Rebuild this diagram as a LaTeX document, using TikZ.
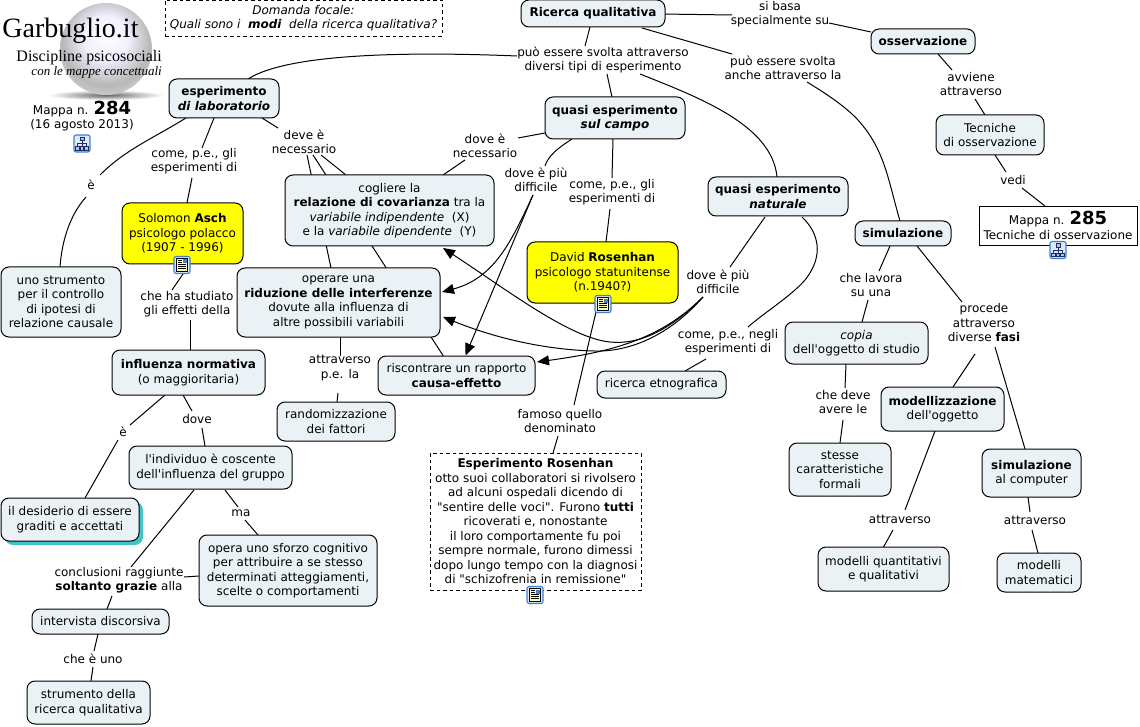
\documentclass[tikz,border=0pt]{standalone}
\usepackage{fontspec}
\newfontfamily\vfont{DejaVu Sans}
\newfontfamily\logofont{Liberation Serif}
\usetikzlibrary{arrows.meta,backgrounds,shadows}
\definecolor{boxfill}{HTML}{EBF2F5}
\definecolor{yel}{HTML}{FFFF00}
\definecolor{tealsh}{HTML}{45C4C6}
\definecolor{iconblue}{HTML}{3F7FD0}
\definecolor{iconfill}{HTML}{DDE9F8}
\definecolor{icondark}{HTML}{1F2F60}
\pgfdeclareradialshading{sphereball}{\pgfpoint{0bp}{8bp}}{
 color(0bp)=(white); color(12bp)=(white!94!blue); color(24bp)=(black!28!white);
 color(32bp)=(black!16!white); color(40bp)=(blue!10!black!45!white); color(50bp)=(blue!15!black!60!white)}
\tikzset{
 x=1pt,y=-1pt,
 every node/.style={font=\vfont\fontsize{12}{14.5}\selectfont,align=center,inner sep=0pt,text=black},
 cbox/.style={draw=black,line width=1pt,rounded corners=8pt,fill=boxfill},
 ybox/.style={cbox,fill=yel},
 dbox/.style={draw=black,line width=.9pt,dash pattern=on 3.5pt off 3pt,fill=white},
 sbox/.style={draw=black,line width=.9pt,fill=white},
 lab/.style={},
 ln/.style={draw=black,line width=1pt},
 la/.style={ln,-{Triangle[length=12pt,width=10pt]}},
 iconmap/.pic={
  \draw[iconblue,line width=1.1pt,fill=iconfill,rounded corners=2pt] (-8,-8.5) rectangle (8,8.5);
  \draw[icondark,line width=.6pt] (0,-3) -- (0,0) (-4.5,3) -- (-4.5,0) -- (4.5,0) -- (4.5,3) (0,0) -- (0,3);
  \draw[icondark,line width=.6pt,fill=iconblue!45] (-2,-6.5) rectangle (2,-3) (-6.5,3) rectangle (-2.5,6.5) (2.5,3) rectangle (6.5,6.5) (-1.5,3) rectangle (1.5,6.5);
 },
 icondoc/.pic={
  \draw[iconblue,line width=1.1pt,fill=iconfill,rounded corners=2pt] (-8,-8.5) rectangle (8,8.5);
  \draw[black,line width=.7pt,fill=yellow!25] (-5.5,-6.5) rectangle (5.5,6.5);
  \fill[iconblue!80!gray] (.5,-5.5) rectangle (4.5,-1.5);
  \draw[black,line width=.8pt] (-4,-4.5) -- (-.5,-4.5) (-4,-2.5) -- (-.5,-2.5) (-4,-.5) -- (4,-.5) (-4,1.5) -- (4,1.5) (-4,3.5) -- (4,3.5);
 }
}
\newcommand\conn[6]{\draw[ln] ([shift={(#2,#3)}]#1.center) -- ([shift={(#5,#6)}]#4.center);}
\begin{document}
\begin{tikzpicture}
\useasboundingbox (0,0) rectangle (1140,727);
% logo
\shade[inner color=black!60,outer color=white] (106,95) ellipse [x radius=58,y radius=5];
\shade[shading=sphereball] (106,49) circle [radius=46];
\node (logoa) at (70.5,31) {\logofont\fontsize{28}{30}\selectfont Garbuglio.it};
\node[anchor=east] (logob) at (162,57.5) {\logofont\fontsize{16}{18}\selectfont Discipline psicosociali};
\node[anchor=east] (logoc) at (162,72) {\logofont\itshape\fontsize{13}{15}\selectfont con le mappe concettuali};
\node (m284) at (82,116) {Mappa n. {\fontsize{18}{18}\selectfont\bfseries 284}\\(16 agosto 2013)};
% boxes
\node[dbox,minimum width=277pt,minimum height=36pt] (domanda) at (303.5,18) {\itshape Domanda focale:\\\itshape Quali sono i \ {\bfseries modi} \ della ricerca qualitativa?};
\node[cbox,minimum width=144pt,minimum height=27pt] (ricerca) at (593,13.5) {\bfseries Ricerca qualitativa};
\node[cbox,minimum width=104pt,minimum height=25pt] (oss) at (923,41.5) {\bfseries osservazione};
\node[cbox,minimum width=108pt,minimum height=40pt] (tecniche) at (990,135) {Tecniche\\di osservazione};
\node[sbox,minimum width=158pt,minimum height=39pt] (mappa) at (1058,225.5) {Mappa n. {\fontsize{18}{18}\selectfont\bfseries 285}\\Tecniche di osservazione};
\node[cbox,minimum width=96pt,minimum height=25pt] (sim) at (903,233.5) {\bfseries simulazione};
\node[cbox,minimum width=110pt,minimum height=39pt] (esplab) at (224,98.5) {\bfseries esperimento\\\bfseries\itshape di laboratorio};
\node[cbox,minimum width=140pt,minimum height=42pt] (qcampo) at (615,118) {\bfseries quasi esperimento\\\bfseries\itshape sul campo};
\node[cbox,minimum width=140pt,minimum height=39pt] (qnat) at (778,196.5) {\bfseries quasi esperimento\\\bfseries\itshape naturale};
\node[cbox,minimum width=209pt,minimum height=71pt] (cogliere) at (389.5,210.5) {cogliere la\\{\bfseries relazione di covarianza} tra la\\{\itshape variabile indipendente} \ (X)\\e la {\itshape variabile dipendente} \ (Y)};
\node[ybox,minimum width=121pt,minimum height=61pt] (asch) at (182.5,233.5) {Solomon {\bfseries Asch}\\psicologo polacco\\(1907 - 1996)};
\node[ybox,minimum width=151pt,minimum height=61pt] (ros) at (602.5,272.5) {David {\bfseries Rosenhan}\\psicologo statunitense\\(n.1940?)};
\node[cbox,minimum width=203pt,minimum height=69pt] (operare) at (338.5,302.5) {operare una\\{\bfseries riduzione delle interferenze}\\dovute alla influenza di\\altre possibili variabili};
\node[cbox,minimum width=120pt,minimum height=70pt] (strum) at (61,302) {uno strumento\\per il controllo\\di ipotesi di\\relazione causale};
\node[cbox,minimum width=153pt,minimum height=45pt] (influenza) at (188.5,372.5) {{\bfseries influenza normativa}\\(o maggioritaria)};
\node[cbox,minimum width=157pt,minimum height=39pt] (riscontrare) at (456.5,375.5) {riscontrare un rapporto\\{\bfseries causa-effetto}};
\node[cbox,minimum width=129pt,minimum height=27pt] (etno) at (661.5,384.5) {ricerca etnografica};
\node[cbox,minimum width=143pt,minimum height=42pt] (copia) at (856.5,343) {{\itshape copia}\\dell'oggetto di studio};
\node[cbox,minimum width=118pt,minimum height=39pt] (random) at (336,421.5) {randomizzazione\\dei fattori};
\node[cbox,minimum width=123pt,minimum height=44pt] (modell) at (942.5,409) {{\bfseries modellizzazione}\\dell'oggetto};
\node[cbox,minimum width=102pt,minimum height=53pt] (stesse) at (840,469.5) {stesse\\caratteristiche\\formali};
\node[cbox,minimum width=99pt,minimum height=48pt] (simcomp) at (1031.5,473) {{\bfseries simulazione}\\al computer};
\node[cbox,minimum width=163pt,minimum height=43pt] (individuo) at (210.5,467.5) {l'individuo è coscente\\dell'influenza del gruppo};
\node[cbox,minimum width=138pt,minimum height=43pt,copy shadow={shadow xshift=4pt,shadow yshift=-4pt,fill=tealsh,draw=none}] (desiderio) at (70,519.5) {il desiderio di essere\\graditi e accettati};
\node[cbox,minimum width=178pt,minimum height=71pt] (opera) at (288,570.5) {opera uno sforzo cognitivo\\per attribuire a se stesso\\determinati atteggiamenti,\\scelte o comportamenti};
\node[dbox,minimum width=211pt,minimum height=137pt] (esper) at (535.5,521.5) {{\bfseries Esperimento Rosenhan}\\otto suoi collaboratori si rivolsero\\ad alcuni ospedali dicendo di\\"sentire delle voci". Furono {\bfseries tutti}\\ricoverati e, nonostante\\il loro comportamente fu poi\\sempre normale, furono dimessi\\dopo lungo tempo con la diagnosi\\di "schizofrenia in remissione"};
\node[cbox,minimum width=131pt,minimum height=44pt] (modq) at (883.5,569) {modelli quantitativi\\e qualitativi};
\node[cbox,minimum width=84pt,minimum height=39pt] (modm) at (1039,572.5) {modelli\\matematici};
\node[cbox,minimum width=137pt,minimum height=25pt] (intervista) at (100.5,621.5) {intervista discorsiva};
\node[cbox,minimum width=123pt,minimum height=43pt] (strric) at (88.5,702.5) {strumento della\\ricerca qualitativa};
% labels
\node[lab] (lbasa) at (780,14) {si basa\\specialmente su};
\node[lab] (lsvolta) at (603,60) {può essere svolta attraverso\\diversi tipi di esperimento};
\node[lab] (lanche) at (783,68) {può essere svolta\\anche attraverso la};
\node[lab] (lavv) at (971,84) {avviene\\attraverso};
\node[lab] (lvedi) at (1013,180) {vedi};
\node[lab] (ldeve) at (304,142) {deve è\\necessario};
\node[lab] (ldnec) at (485,146) {dove è\\necessario};
\node[lab] (lcome) at (194,161) {come, p.e., gli\\esperimenti di};
\node[lab] (ldiffa) at (536,180) {dove è più\\difficile};
\node[lab] (lcomeb) at (612,192) {come, p.e., gli\\esperimenti di};
\node[lab] (lea) at (91,185) {è};
\node[lab] (ldiffb) at (718,282) {dove è più\\difficile};
\node[lab] (lstud) at (187,304) {che ha studiato\\gli effetti della};
\node[lab] (lattr) at (340,368) {attraverso\\p.e. la};
\node[lab] (lnegli) at (728,342) {come, p.e., negli\\esperimenti di};
\node[lab] (llav) at (871,285) {che lavora\\su una};
\node[lab] (lproc) at (984,323) {procede\\attraverso\\diverse {\bfseries fasi}};
\node[lab] (ldev) at (843,402) {che deve\\avere le};
\node[lab] (leb) at (123,432) {è};
\node[lab] (ldove) at (197,419) {dove};
\node[lab] (lma) at (241,513) {ma};
\node[lab] (lfam) at (560,421) {famoso quello\\denominato};
\node[lab] (lconc) at (119,580) {conclusioni raggiunte\\{\bfseries soltanto grazie} alla};
\node[lab] (lche) at (93,659) {che è uno};
\node[lab] (latta) at (900,519) {attraverso};
\node[lab] (lattb) at (1035,520) {attraverso};
% icons
\pic at (82,143.5) {iconmap};
\pic at (1058,250) {iconmap};
\pic at (182,265) {icondoc};
\pic at (603,304) {icondoc};
\pic at (535,595) {icondoc};
% connectors
\begin{scope}[on background layer]
\conn{ricerca}{68}{0.5}{lbasa}{-48}{1}
\conn{lbasa}{49}{9}{oss}{-52}{-9.5}
\conn{ricerca}{-3}{13.5}{lsvolta}{-18}{-14}
\conn{ricerca}{49}{14.5}{lanche}{-51}{-14}
\draw[ln] ([shift={(24,14)}]lanche.center) .. controls (825,93) and (845,106) .. (858,120) .. controls (885,150) and (888,180) .. ([shift={(-3,-12.5)}]sim.center);
\draw[ln] ([shift={(-86,-4)}]lsvolta.center) .. controls (420,52) and (290,52) .. ([shift={(24,-19.5)}]esplab.center);
\conn{lsvolta}{4}{14}{qcampo}{-3}{-21}
\draw[ln] ([shift={(37,14)}]lsvolta.center) .. controls (700,98) and (772,125) .. ([shift={(-1,-19.5)}]qnat.center);
\conn{oss}{15}{12.5}{lavv}{-19}{-14}
\conn{lavv}{4}{15}{tecniche}{-5}{-20}
\conn{tecniche}{5}{20}{lvedi}{-7}{-8}
\conn{lvedi}{9}{8}{mappa}{-13}{-19.5}
\draw[ln] ([shift={(-38,19.5)}]esplab.center) .. controls (150,140) and (125,150) .. ([shift={(9,-10)}]lea.center);
\draw[ln] ([shift={(-5,12)}]lea.center) .. controls (70,215) and (62,240) .. ([shift={(-1,-35)}]strum.center);
\conn{esplab}{-10}{19.5}{lcome}{8}{-13}
\conn{lcome}{-2}{17}{asch}{4.5}{-30.5}
\conn{esplab}{38}{19.5}{ldeve}{-26}{-14}
\conn{ldeve}{17}{13}{cogliere}{-43.5}{-35.5}
\conn{ldeve}{3}{13}{operare}{-7.5}{-34.5}
\conn{ldeve}{9}{13}{riscontrare}{-12.5}{-18.5}
\conn{qcampo}{-70}{15}{ldnec}{33}{-8}
\conn{ldnec}{-20}{14}{cogliere}{53.5}{-35.5}
\draw[ln] ([shift={(-43,21)}]qcampo.center) .. controls (558,148) and (548,156) .. ([shift={(9,-14)}]ldiffa.center);
\draw[la] ([shift={(-3,15)}]ldiffa.center) .. controls (512,240) and (495,278) .. ([shift={(103.5,-10.5)}]operare.center);
\draw[la] ([shift={(-3,15)}]ldiffa.center) -- ([shift={(9,-20)}]riscontrare.center);
\conn{qcampo}{-2}{21}{lcomeb}{0}{-14}
\conn{lcomeb}{-2}{17}{ros}{3.5}{-30.5}
\conn{ros}{-6.5}{39.5}{lfam}{14}{-16}
\conn{lfam}{-2}{15}{esper}{17.5}{-68.5}
\conn{qnat}{-13}{20.5}{ldiffb}{12}{-15}
\draw[la] ([shift={(-15,15)}]ldiffb.center) .. controls (670,330) and (640,345) .. (610,342) .. controls (570,338) and (510,292) .. ([shift={(53.5,37.5)}]cogliere.center);
\draw[la] ([shift={(-15,15)}]ldiffb.center) .. controls (670,335) and (630,352) .. (595,351) .. controls (550,350) and (500,340) .. ([shift={(104.5,14.5)}]operare.center);
\draw[la] ([shift={(-15,15)}]ldiffb.center) .. controls (660,340) and (610,352) .. ([shift={(80.5,-13.5)}]riscontrare.center);
\draw[ln] ([shift={(24,20.5)}]qnat.center) .. controls (818,232) and (825,255) .. (805,280) .. controls (790,297) and (765,312) .. ([shift={(20,-15)}]lnegli.center);
\conn{lnegli}{-22}{17}{etno}{23.5}{-13.5}
\conn{sim}{-13}{12.5}{llav}{8}{-14}
\conn{llav}{-3}{15}{copia}{5.5}{-21}
\conn{sim}{14}{12.5}{lproc}{-22}{-21}
\conn{lproc}{-9}{31}{modell}{10.5}{-22}
\conn{lproc}{11}{24}{simcomp}{-6.5}{-24}
\conn{copia}{-10.5}{21}{ldev}{2}{-14}
\conn{ldev}{0}{18}{stesse}{0}{-26.5}
\conn{modell}{-7.5}{22}{latta}{5}{-9}
\conn{latta}{-7}{11}{modq}{0}{-22}
\conn{simcomp}{-3.5}{24}{lattb}{-5}{-8}
\conn{lattb}{-3}{10}{modm}{-1}{-19.5}
\conn{asch}{0.5}{40.5}{lstud}{-15}{-14}
\conn{lstud}{3}{16}{influenza}{1.5}{-22.5}
\conn{operare}{1.5}{34.5}{lattr}{0}{-12}
\conn{lattr}{-2}{25}{random}{1}{-19.5}
\conn{influenza}{-23.5}{22.5}{leb}{7}{-7}
\conn{leb}{-5}{8}{desiderio}{15}{-21.5}
\conn{influenza}{-5.5}{22.5}{ldove}{-5}{-8}
\conn{ldove}{5}{9}{individuo}{-5.5}{-21.5}
\conn{individuo}{-16.5}{22.5}{lconc}{12}{-13}
\conn{lconc}{65}{-3}{opera}{-89}{5.5}
\conn{individuo}{14.5}{22.5}{lma}{-3}{-6}
\conn{lma}{4}{7}{opera}{-30}{-35.5}
\conn{lconc}{-7}{16}{intervista}{6.5}{-12.5}
\conn{intervista}{-2.5}{12.5}{lche}{1}{-8}
\conn{lche}{0}{8}{strric}{2.5}{-21.5}
\end{scope}
\end{tikzpicture}
\end{document}
